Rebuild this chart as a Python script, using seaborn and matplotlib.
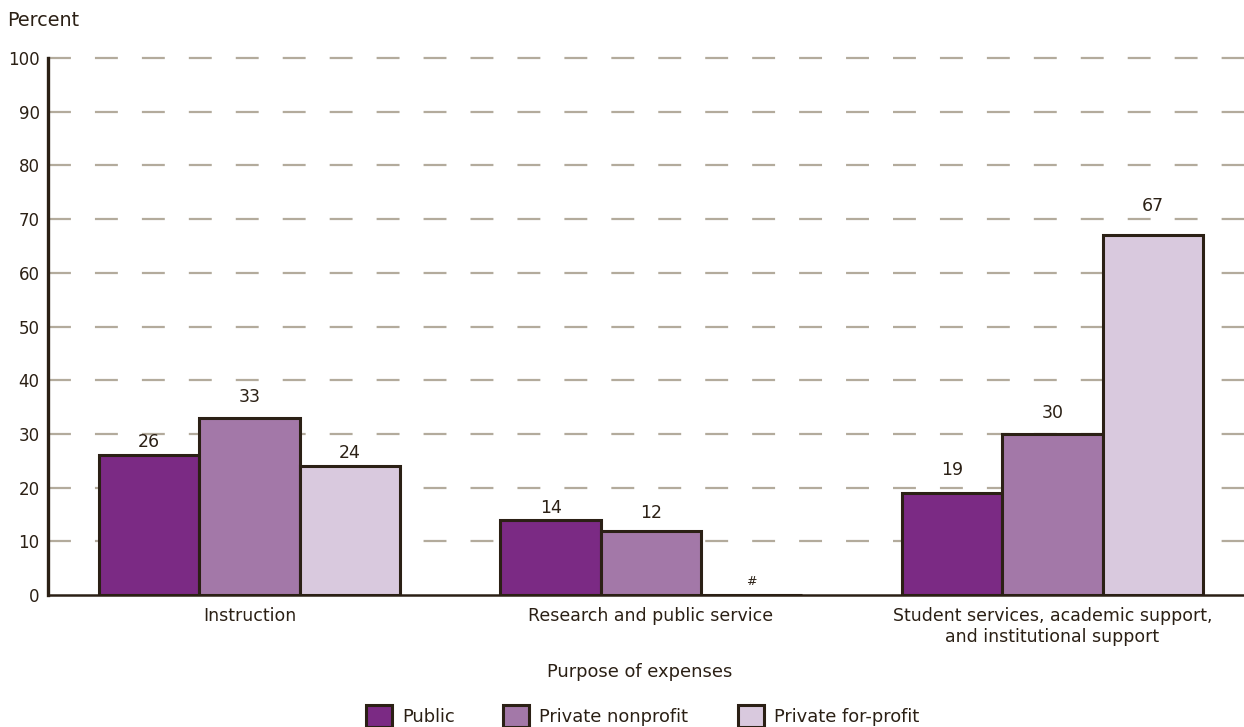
import matplotlib
matplotlib.use("Agg")
import matplotlib.pyplot as plt
import seaborn as sns
import pandas as pd
from matplotlib.patches import Patch

# Share of expenses by purpose and institutional control
purposes = [
    "Instruction",
    "Research and public service",
    "Student services, academic support,\nand institutional support",
]
sectors = ["Public", "Private nonprofit", "Private for-profit"]
public_vals = [26, 14, 19]
nonprofit_vals = [33, 12, 30]
forprofit_vals = [24, 0, 67]
# Printed labels ("#" marks a value that rounds to zero)
public_labels = ["26", "14", "19"]
nonprofit_labels = ["33", "12", "30"]
forprofit_labels = ["24", "#", "67"]
y_ticks = [0, 10, 20, 30, 40, 50, 60, 70, 80, 90, 100]

# Styling
colors = ["#7b2a84", "#a378a8", "#d9c9de"]
ink = "#2b2015"
grid_col = "#b3ab9c"
# gap (points) between each bar top and its value label, per sector
label_pads = [[3.0, 2.3, 9.8], [8.4, 5.9, 8.6], [3.0, 5.0, 14.8]]

df = pd.DataFrame({
    "purpose": purposes * 3,
    "sector": [s for s in sectors for _ in purposes],
    "value": public_vals + nonprofit_vals + forprofit_vals,
})

sns.set_theme(style="white")
plt.rcParams["font.family"] = ["DejaVu Sans"]
plt.rcParams["lines.scale_dashes"] = False

fig = plt.figure(figsize=(12.44, 7.27), dpi=100)
ax = fig.add_axes([48 / 1244, 1 - 595 / 727, 1 - 48 / 1244, (595 - 58) / 727])

sns.barplot(
    data=df, x="purpose", y="value", hue="sector",
    order=purposes, hue_order=sectors, palette=colors,
    width=0.75, edgecolor=ink, linewidth=2.2, saturation=1,
    legend=False, ax=ax, zorder=3,
)

ax.set_ylim(0, 100)
ax.set_xlim(-0.502, 2.477)
ax.set_yticks(y_ticks)
ax.set_yticklabels([str(t) for t in y_ticks], fontsize=12, color=ink)
ax.tick_params(axis="y", length=0, pad=6)
ax.tick_params(axis="x", length=0, pad=8.5, labelsize=12.5, labelcolor=ink)
for lbl in ax.get_xticklabels():
    lbl.set_multialignment("center")
    lbl.set_linespacing(1.2)

for t in y_ticks[1:]:
    ax.axhline(t, color=grid_col, lw=1.6, ls=(0, (16.5, 17.3)), zorder=1,
               clip_on=False)

for side in ["top", "right"]:
    ax.spines[side].set_visible(False)
ax.spines["left"].set_color(ink)
ax.spines["left"].set_linewidth(2.4)
ax.spines["left"].set_zorder(4)
ax.spines["bottom"].set_color(ink)
ax.spines["bottom"].set_linewidth(1.8)
ax.spines["bottom"].set_zorder(4)

label_sets = [public_labels, nonprofit_labels, forprofit_labels]
for cont, labs, pads in zip(ax.containers, label_sets, label_pads):
    for bar, lab, pad in zip(cont, labs, pads):
        ax.annotate(
            lab,
            xy=(bar.get_x() + bar.get_width() / 2, bar.get_height()),
            xytext=(0, pad), textcoords="offset points",
            ha="center", va="bottom", color=ink,
            fontsize=9 if lab == "#" else 12.5,
        )

ax.set_xlabel("")
ax.set_ylabel("")

fig.text(7 / 1244, 1 - 21 / 727, "Percent", fontsize=13.8, color=ink, va="center", ha="left")
fig.text(640 / 1244, 1 - 672 / 727, "Purpose of expenses", fontsize=12.9, color=ink,
         va="center", ha="center")

# One legend entry per sector, each anchored at its own left edge
legend_x = [366, 503, 738]
for c, name, x0 in zip(colors, sectors, legend_x):
    fig.legend(
        [Patch(facecolor=c, edgecolor=ink, linewidth=2.2)], [name],
        loc="center left", bbox_to_anchor=(x0 / 1244, 1 - 716 / 727),
        frameon=False, fontsize=12.9, handlelength=1.45, handleheight=1.45,
        handletextpad=0.55, borderpad=0, borderaxespad=0, labelcolor=ink,
    )

fig.savefig("out.png", dpi=100)
